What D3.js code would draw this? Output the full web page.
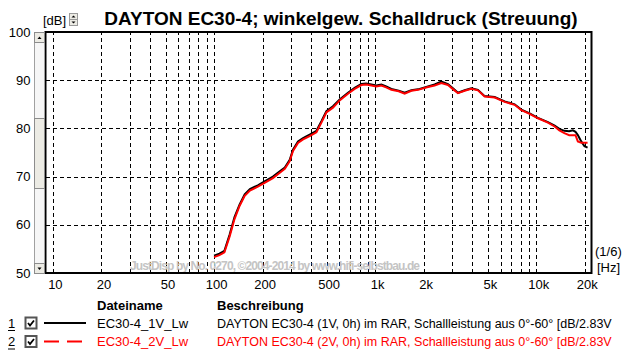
<!DOCTYPE html>
<html lang="de">
<head>
<meta charset="UTF-8">
<title>DAYTON EC30-4 Streuung</title>
<style>
    body { margin: 0; background: #fff; }
    svg { display: block; font-family: "Liberation Sans", Arial, sans-serif; }
</style>
</head>
<body>
<div class="box"></div>
<script src="https://d3js.org/d3.v7.min.js"></script>
<script>
// Frequenzpunkte (Hz), gemeinsam fuer beide Messungen
const freqs = [100, 108, 116, 125, 134, 144, 155, 167, 187, 206, 232, 256, 275, 295, 309, 332, 357, 392,
    432, 464, 498, 547, 602, 678, 746, 821, 880, 947, 1017, 1093, 1170, 1260, 1400, 1524, 1677, 1843,
    2126, 2339, 2575, 2829, 3050, 3264, 3592, 3953, 4342, 4779, 5512, 6360, 7334, 8072, 9088, 10233,
    11803, 12990, 13900, 14930, 16000, 16860, 17500, 18100, 19000, 19900, 20800];

// EC30-4_1V_Lw (schwarz)
const lw1V = [53.6, 54.0, 54.6, 58.0, 61.6, 64.2, 66.3, 67.4, 68.2, 69.0, 70.0, 71.1, 71.9, 73.5, 75.6, 77.3, 78.0, 78.7,
    79.5, 81.5, 83.6, 84.6, 86.0, 87.4, 88.4, 89.2, 89.3, 89.1, 88.9, 89.1, 88.7, 88.2, 87.8, 87.4, 87.9, 88.1,
    88.7, 89.1, 89.7, 89.2, 88.3, 87.4, 87.9, 88.3, 88.0, 86.7, 86.5, 85.6, 85.0, 83.9, 83.1, 82.2,
    81.3, 80.6, 79.9, 79.5, 79.4, 79.6, 79.3, 78.6, 77.3, 76.3, 76.0];

// EC30-4_2V_Lw (rot)
const lw2V = [53.3, 53.7, 54.3, 57.6, 61.2, 63.9, 66.0, 67.1, 67.9, 68.7, 69.7, 70.8, 71.6, 73.2, 75.3, 77.0, 77.7, 78.4,
    79.2, 81.2, 83.3, 84.3, 85.8, 87.2, 88.2, 89.0, 89.1, 88.9, 88.7, 88.9, 88.5, 88.0, 87.7, 87.2, 87.8, 88.0,
    88.6, 88.9, 89.4, 89.0, 88.1, 87.3, 87.8, 88.2, 87.9, 86.6, 86.4, 85.5, 84.9, 83.8, 83.0, 82.1,
    81.2, 80.4, 79.6, 79.0, 78.6, 78.6, 78.6, 77.3, 77.0, 77.0, 77.0];

const xTickValues = [10, 20, 50, 100, 200, 500, 1000, 2000, 5000, 10000, 20000];
const xTickLabels = ['10', '20', '50', '100', '200', '500', '1k', '2k', '5k', '10k', '20k'];
const xGridValues = [10, 20, 30, 40, 50, 60, 70, 80, 90, 100, 200, 300, 400, 500, 600, 700, 800, 900,
    1000, 2000, 3000, 4000, 5000, 6000, 7000, 8000, 9000, 10000, 20000];
const yTickValues = [50, 60, 70, 80, 90, 100];
const yGridValues = [60, 70, 80, 90];

const legendNames = ['EC30-4_1V_Lw', 'EC30-4_2V_Lw'];
const legendDescs = [
    'DAYTON EC30-4 (1V, 0h) im RAR, Schallleistung aus 0°-60° [dB/2.83V',
    'DAYTON EC30-4 (2V, 0h) im RAR, Schallleistung aus 0°-60° [dB/2.83V'
];
const seriesColors = ['#000000', '#ff0000'];

const width = 624, height = 351;
const plot = { left: 45.5, right: 591.5, top: 32, bottom: 273 };

const svg = d3.select('.box').append('svg').attr('width', width).attr('height', height);
svg.append('rect').attr('width', width).attr('height', height).attr('fill', '#fff');

const x = d3.scaleLog().domain([9, 22000]).range([plot.left, plot.right]);
const y = d3.scaleLinear().domain([50, 100]).range([plot.bottom, plot.top]);

// Gitter
const grid = svg.append('g').attr('class', 'grid');
grid.append('g')
    .attr('transform', `translate(0, ${plot.bottom})`)
    .call(d3.axisBottom(x).tickValues(xGridValues).tickFormat('').tickSize(-(plot.bottom - plot.top)))
    .call(g => g.select('.domain').remove());
grid.append('g')
    .attr('transform', `translate(${plot.left}, 0)`)
    .call(d3.axisLeft(y).tickValues(yGridValues).tickFormat('').tickSize(-(plot.right - plot.left)))
    .call(g => g.select('.domain').remove());
grid.selectAll('line').attr('stroke', '#000').attr('stroke-width', 1).attr('stroke-dasharray', '4,3')
    .attr('shape-rendering', 'crispEdges');

// Wasserzeichen
svg.append('text')
    .attr('x', 275).attr('y', 270)
    .attr('text-anchor', 'middle')
    .attr('font-size', 12).attr('font-weight', 'bold')
    .attr('fill', '#c4c4c4')
    .attr('textLength', 290)
    .text('JustDisp by No. 0270, ©2004-2014 by www.hifi-selbstbau.de');

// Kurven
svg.append('clipPath').attr('id', 'clip').append('rect')
    .attr('x', plot.left).attr('y', plot.top)
    .attr('width', plot.right - plot.left).attr('height', plot.bottom - plot.top);

const line = d3.line().x(d => x(d[0])).y(d => y(d[1]));
const curves = svg.append('g').attr('clip-path', 'url(#clip)');
[lw1V, lw2V].forEach((vals, i) => {
    curves.append('path')
        .datum(freqs.map((f, j) => [f, vals[j]]))
        .attr('fill', 'none')
        .attr('stroke', seriesColors[i])
        .attr('stroke-width', 2)
        .attr('d', line);
});

// Rahmen
svg.append('rect')
    .attr('x', plot.left).attr('y', plot.top)
    .attr('width', plot.right - plot.left).attr('height', plot.bottom - plot.top)
    .attr('fill', 'none').attr('stroke', '#000').attr('stroke-width', 2);

// Achsen
const xAxis = svg.append('g')
    .attr('transform', `translate(2, ${plot.bottom})`)
    .call(d3.axisBottom(x).tickValues(xTickValues).tickFormat((d, i) => xTickLabels[i]).tickSize(0).tickPadding(7));
const yAxis = svg.append('g')
    .attr('transform', `translate(${plot.left}, 0)`)
    .call(d3.axisLeft(y).tickValues(yTickValues).tickSize(0).tickPadding(15));
[xAxis, yAxis].forEach(a => {
    a.select('.domain').remove();
    a.selectAll('text').attr('font-size', 13).attr('fill', '#000')
        .attr('font-family', '"Liberation Sans", Arial, sans-serif');
});

// Scrollbalken links
const sb = svg.append('g');
sb.append('rect').attr('x', 34.5).attr('y', 32.5).attr('width', 10).attr('height', 241)
    .attr('fill', '#f6f6f6').attr('stroke', '#a0a0a0');
sb.append('rect').attr('x', 34.5).attr('y', 118.5).attr('width', 10).attr('height', 70)
    .attr('fill', '#ecebe4').attr('stroke', '#8c8c8c');
[[32.5, 'up'], [263.5, 'down']].forEach(([by, dir]) => {
    sb.append('rect').attr('x', 34.5).attr('y', by).attr('width', 10).attr('height', 10)
        .attr('fill', '#ecebe4').attr('stroke', '#8c8c8c');
    const cy = by + 5;
    sb.append('path')
        .attr('d', dir === 'up'
            ? `M37.5,${cy + 1.5} L41.5,${cy + 1.5} L39.5,${cy - 1} Z`
            : `M37.5,${cy - 1} L41.5,${cy - 1} L39.5,${cy + 1.5} Z`)
        .attr('fill', '#000');
});

// [dB] Beschriftung mit Drehfeld
svg.append('text').attr('x', 43).attr('y', 25).attr('font-size', 13).text('[dB]');
const sp = svg.append('g');
[[13.5, 'up'], [19.5, 'down']].forEach(([by, dir]) => {
    sp.append('rect').attr('x', 69.5).attr('y', by).attr('width', 8).attr('height', 6)
        .attr('fill', '#ecebe4').attr('stroke', '#9a9a9a');
    const cy = by + 3;
    sp.append('path')
        .attr('d', dir === 'up'
            ? `M71.5,${cy + 1} L75.5,${cy + 1} L73.5,${cy - 1} Z`
            : `M71.5,${cy - 1} L75.5,${cy - 1} L73.5,${cy + 1} Z`)
        .attr('fill', '#000');
});

// Titel
svg.append('text')
    .attr('x', 341).attr('y', 25)
    .attr('text-anchor', 'middle')
    .attr('font-size', 19).attr('font-weight', 'bold')
    .text('DAYTON EC30-4; winkelgew. Schalldruck (Streuung)');

// Einheiten rechts
svg.append('text').attr('x', 595).attr('y', 256).attr('font-size', 13).text('(1/6)');
svg.append('text').attr('x', 597).attr('y', 272).attr('font-size', 13).text('[Hz]');

// Legende
const legend = svg.append('g').attr('font-size', 13);
legend.append('text').attr('x', 97).attr('y', 310).attr('font-weight', 'bold').text('Dateiname');
legend.append('text').attr('x', 217).attr('y', 310).attr('font-weight', 'bold').text('Beschreibung');

const rows = legend.selectAll('.row').data(legendNames).enter().append('g')
    .attr('transform', (d, i) => `translate(0, ${323 + i * 18.5})`);
rows.append('text').attr('x', 8).attr('y', 4.5).attr('fill', '#000').text((d, i) => i + 1);
rows.append('line').attr('x1', 8).attr('x2', 15).attr('y1', 7.5).attr('y2', 7.5).attr('stroke', '#000');
rows.append('rect').attr('x', 25.5).attr('y', -5.5).attr('width', 11).attr('height', 11)
    .attr('fill', '#fff').attr('stroke', '#555').attr('stroke-width', 2);
rows.append('path').attr('d', 'M28,0 L30,2.5 L34,-2.5').attr('fill', 'none').attr('stroke', '#000').attr('stroke-width', 1.8);
rows.append('line').attr('x1', 44).attr('x2', 86).attr('y1', 0).attr('y2', 0)
    .attr('stroke', (d, i) => seriesColors[i]).attr('stroke-width', 2)
    .attr('stroke-dasharray', (d, i) => i === 1 ? '15,8' : null);
rows.append('text').attr('x', 217).attr('y', 4.5).attr('fill', (d, i) => seriesColors[i])
    .attr('font-size', 12.5)
    .text((d, i) => legendDescs[i]);
rows.append('text').attr('x', 97).attr('y', 4.5).attr('fill', (d, i) => seriesColors[i]).text(d => d);
</script>
</body>
</html>
